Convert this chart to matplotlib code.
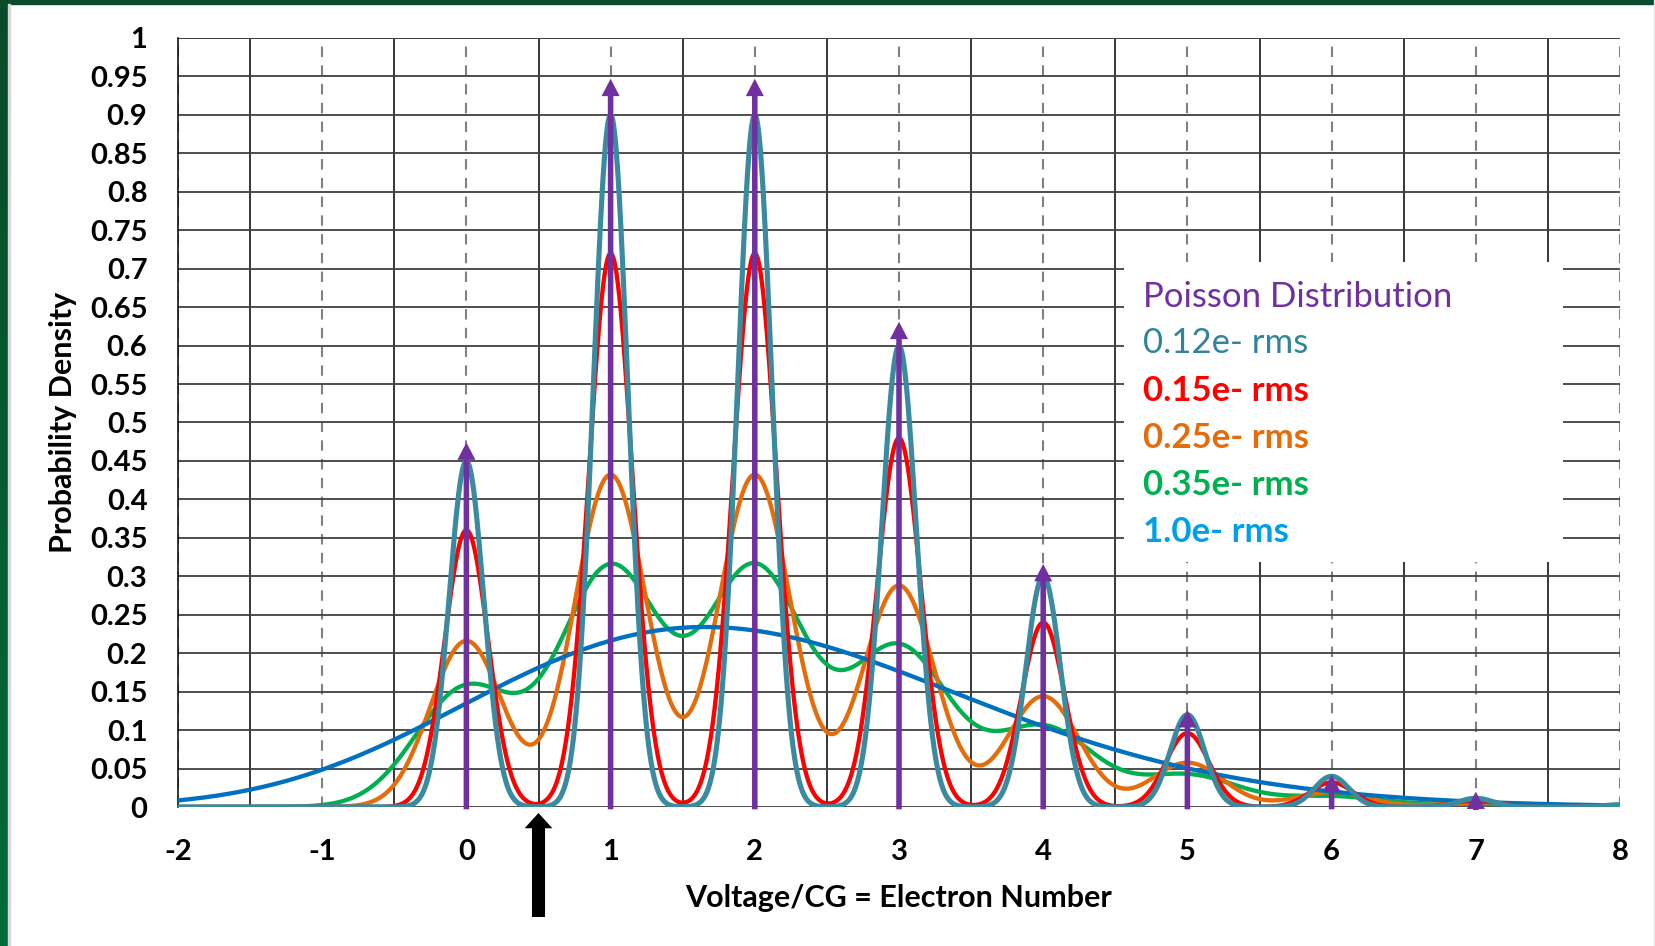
import numpy as np
import matplotlib
matplotlib.use("Agg")
import matplotlib.pyplot as plt
from matplotlib.patches import Rectangle

plt.rcParams["axes.unicode_minus"] = False

# Poisson probabilities (mean ~2), k = 0..8
electrons = [0, 1, 2, 3, 4, 5, 6, 7, 8]
poisson_p = [0.1353, 0.2707, 0.2707, 0.1804, 0.0902, 0.0361, 0.0120, 0.0034, 0.0009]
# purple arrow tip heights as drawn
arrow_heights = [0.474, 0.947, 0.947, 0.631, 0.316, 0.126, 0.042, 0.020]

# read noise (e- rms) of each curve and its look
noise_rms = [0.35, 0.25, 1.0, 0.15, 0.12]
curve_colors = ["#00B050", "#E46C0A", "#0070C0", "#FF0000", "#3A8BA0"]
curve_widths = [3.1, 3.1, 3.1, 3.1, 3.7]

legend_labels = ["Poisson Distribution", "0.12e- rms", "0.15e- rms",
                 "0.25e- rms", "0.35e- rms", "1.0e- rms"]
legend_colors = ["#7030A0", "#31849B", "#FF0000", "#E46C0A", "#00B050", "#00A0E6"]
legend_bold = [False, False, True, True, True, True]

xticks = list(range(-2, 9))
yticks = [round(0.05 * i, 2) for i in range(21)]
ytick_labels = ["0", "0.05", "0.1", "0.15", "0.2", "0.25", "0.3", "0.35", "0.4", "0.45",
                "0.5", "0.55", "0.6", "0.65", "0.7", "0.75", "0.8", "0.85", "0.9", "0.95", "1"]

FONT = "Lato"
W, H = 1656, 946

fig = plt.figure(figsize=(W / 100, H / 100), dpi=100)
fig.patch.set_facecolor("white")

# green frame on left / top edge
grad = fig.add_axes([0, 0, 8 / W, 1])
grad.imshow(np.linspace(0, 1, 100).reshape(-1, 1), aspect="auto",
            cmap=matplotlib.colors.LinearSegmentedColormap.from_list("g", ["#0B4A2A", "#006B3A"]))
grad.axis("off")
fig.patches.append(Rectangle((0, 1 - 4 / H), 1, 4 / H, transform=fig.transFigure,
                             color="#0B4A2A", zorder=5))
fig.patches.append(Rectangle((8 / W, 0), 2 / W, 1 - 4 / H, transform=fig.transFigure,
                             color="#D9D9D9", zorder=5))
fig.patches.append(Rectangle((1 - 2 / W, 0), 2 / W, 1, transform=fig.transFigure,
                             color="#E6E6E6", zorder=5))

ax = fig.add_axes([178 / W, 1 - 807 / H, 1442 / W, 769 / H])
ax.set_xlim(-2, 8)
ax.set_ylim(0, 1)
ax.set_axisbelow(True)

ax.set_xticks(xticks)
ax.set_xticks([x + 0.5 for x in xticks[:-1]], minor=True)
ax.set_yticks(yticks)
ax.set_yticklabels(ytick_labels)
ax.tick_params(axis="both", which="both", length=0)
ax.tick_params(axis="y", pad=22)
ax.tick_params(axis="x", pad=23)
for lab in ax.get_xticklabels() + ax.get_yticklabels():
    lab.set_fontfamily(FONT)
    lab.set_fontweight("bold")
    lab.set_fontsize(21)

ax.grid(axis="y", which="major", color="#404040", lw=1.3)
ax.grid(axis="x", which="minor", color="black", lw=1.1)
ax.grid(axis="x", which="major", color="#808080", lw=1.5, ls=(0, (5, 4)))
for s in ["top", "right", "bottom"]:
    ax.spines[s].set_visible(False)
ax.spines["left"].set_color("black")
ax.spines["left"].set_linewidth(1.1)
ax.axhline(1.0, color="#404040", lw=1.3, zorder=0.6)

# white box behind the text legend
ax.add_patch(Rectangle((0.656, 0.3186), 0.3045, 0.3901, transform=ax.transAxes,
                       facecolor="white", edgecolor="none", zorder=1))

xs = np.linspace(-2, 8, 3001)
for sig, col, lw in zip(noise_rms, curve_colors, curve_widths):
    dens = np.zeros_like(xs)
    for k, p in zip(electrons, poisson_p):
        dens += p * np.exp(-0.5 * ((xs - k) / sig) ** 2) / (sig * np.sqrt(2 * np.pi))
    ax.plot(xs, dens, color=col, lw=lw, zorder=3, solid_capstyle="butt")

for k, h in zip(electrons, arrow_heights):
    ax.annotate("", xy=(k, h), xytext=(k, min(-0.003, h - 0.024)),
                arrowprops=dict(arrowstyle="simple,head_width=13,head_length=12.5,tail_width=4",
                                mutation_scale=1, color="#7030A0", shrinkA=0, shrinkB=0, lw=0),
                zorder=4, annotation_clip=False)

# black marker arrow under the axis at 0.5 e-
ax.annotate("", xy=(0.5, -6 / 769), xycoords=("data", "axes fraction"),
            xytext=(0.5, -110 / 769), textcoords=("data", "axes fraction"),
            arrowprops=dict(arrowstyle="simple,head_width=20,head_length=11,tail_width=9.4",
                            mutation_scale=1, color="black", shrinkA=0, shrinkB=0, lw=0),
            annotation_clip=False)

ax.set_xlabel("Voltage/CG = Electron Number", fontfamily=FONT, fontweight="bold",
              fontsize=22, labelpad=14)
ax.set_ylabel("Probability Density", fontfamily=FONT, fontweight="bold",
              fontsize=22, labelpad=9)

baselines = [0.6502, 0.5904, 0.528, 0.4668, 0.4057, 0.3446]
for txt, col, b, yb in zip(legend_labels, legend_colors, legend_bold, baselines):
    ax.text(0.669, yb, txt, transform=ax.transAxes, color=col, fontfamily=FONT,
            fontweight="bold" if b else "normal", fontsize=25, va="baseline", ha="left",
            zorder=5)

fig.savefig("out.png", dpi=100, facecolor="white")
